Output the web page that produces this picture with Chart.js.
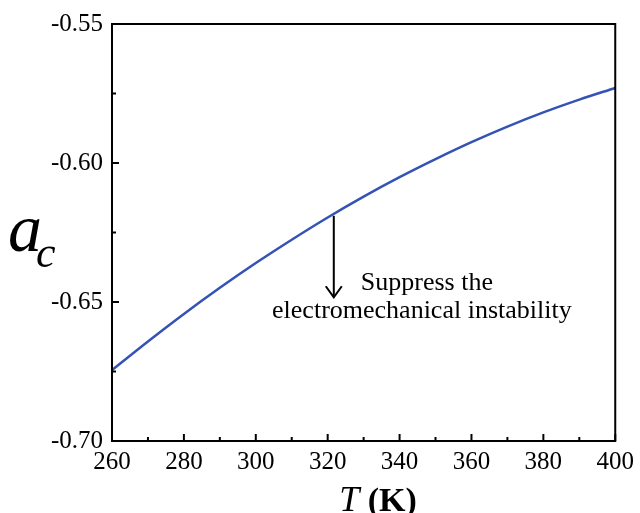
<!DOCTYPE html>
<html>
<head>
<meta charset="utf-8">
<script src="https://cdn.jsdelivr.net/npm/chart.js@4/dist/chart.umd.min.js"></script>
<style>
html,body{margin:0;padding:0;background:#fff;}
canvas{display:block;}
</style>
</head>
<body>
<canvas id="c" width="640" height="513"></canvas>
<script>
// ---- data ----
const temperatures = [260, 270, 280, 290, 300, 310, 320, 330, 340, 350, 360, 370, 380, 390, 400];
const acValues = [-0.6745, -0.6642, -0.6543, -0.6449, -0.6360, -0.6276, -0.6196, -0.6121, -0.6051, -0.5986, -0.5925, -0.5869, -0.5818, -0.5772, -0.5730];
const xTicks = [260, 280, 300, 320, 340, 360, 380, 400];
const yTicks = [-0.70, -0.65, -0.60, -0.55];
const arrowT = [321.7];
const arrowA = [-0.6190, -0.6483];
const annotationLines = ['Suppress the', 'electromechanical instability'];
const annotationAnchor = [346.2, -0.6458];

const SERIF = '"Liberation Serif", "DejaVu Serif", serif';

const decor = {
  id: 'decor',
  afterDraw(chart) {
    const {ctx, chartArea: ca, scales: {x, y}} = chart;
    ctx.save();
    // frame
    ctx.strokeStyle = '#000';
    ctx.lineWidth = 2;
    ctx.strokeRect(ca.left, ca.top, ca.right - ca.left, ca.bottom - ca.top);
    // inward ticks bottom axis
    for (let v = xTicks[0]; v <= xTicks[xTicks.length - 1] + 1e-9; v += 10) {
      const px = x.getPixelForValue(v);
      const major = xTicks.includes(v);
      const len = major ? 7 : 4;
      ctx.beginPath();
      ctx.moveTo(px, ca.bottom);
      ctx.lineTo(px, ca.bottom - len);
      ctx.stroke();
    }
    // inward ticks left axis
    for (let i = 0; i < yTicks.length; i++) {
      const vals = [yTicks[i]];
      if (i < yTicks.length - 1) vals.push((yTicks[i] + yTicks[i + 1]) / 2);
      vals.forEach((v, k) => {
        const py = y.getPixelForValue(v);
        const len = k === 0 ? 7 : 4;
        ctx.beginPath();
        ctx.moveTo(ca.left, py);
        ctx.lineTo(ca.left + len, py);
        ctx.stroke();
      });
    }
    // arrow
    const ax = x.getPixelForValue(arrowT[0]);
    const ay1 = y.getPixelForValue(arrowA[0]);
    const ay2 = y.getPixelForValue(arrowA[1]);
    ctx.lineWidth = 2;
    ctx.beginPath();
    ctx.moveTo(ax, ay1);
    ctx.lineTo(ax, ay2);
    ctx.stroke();
    ctx.beginPath();
    ctx.moveTo(ax - 8, ay2 - 11);
    ctx.lineTo(ax, ay2);
    ctx.lineTo(ax + 8, ay2 - 11);
    ctx.stroke();
    // annotation text
    ctx.fillStyle = '#000';
    ctx.font = '26px ' + SERIF;
    ctx.textAlign = 'center';
    ctx.textBaseline = 'alphabetic';
    const tx = x.getPixelForValue(annotationAnchor[0]);
    const ty = y.getPixelForValue(annotationAnchor[1]);
    ctx.fillText(annotationLines[0], tx + 5, ty);
    ctx.fillText(annotationLines[1], tx, ty + 28);
    // y title: a_c
    ctx.textAlign = 'left';
    ctx.font = 'italic 68px ' + SERIF;
    ctx.fillText('a', 8, 251);
    ctx.font = 'italic 44px ' + SERIF;
    ctx.fillText('c', 36, 267);
    // x title: T (K)
    ctx.font = 'italic 36px ' + SERIF;
    const tw = ctx.measureText('T').width;
    ctx.font = 'bold 34px ' + SERIF;
    const kw = ctx.measureText(' (K)').width;
    const start = 378 - (tw + kw) / 2;
    ctx.font = 'italic 36px ' + SERIF;
    ctx.fillText('T', start, 511);
    ctx.font = 'bold 34px ' + SERIF;
    ctx.fillText(' (K)', start + tw, 511);
    ctx.restore();
  }
};

new Chart(document.getElementById('c'), {
  type: 'line',
  data: {
    datasets: [{
      data: temperatures.map((t, i) => ({x: t, y: acValues[i]})),
      borderColor: '#3552b5',
      borderWidth: 2.5,
      pointRadius: 0,
      cubicInterpolationMode: 'monotone',
      fill: false
    }]
  },
  options: {
    responsive: false,
    devicePixelRatio: 1,
    animation: false,
    layout: {padding: {top: 23, right: 24, left: 0, bottom: 0}},
    plugins: {legend: {display: false}, tooltip: {enabled: false}},
    scales: {
      x: {
        type: 'linear',
        min: 260, max: 400,
        afterBuildTicks: s => { s.ticks = xTicks.map(v => ({value: v})); },
        afterFit: s => { s.height = 72; },
        grid: {display: false, drawTicks: false},
        border: {display: false},
        ticks: {
          padding: 6,
          color: '#000',
          font: {family: SERIF, size: 25},
          callback: v => String(v),
          maxRotation: 0
        }
      },
      y: {
        type: 'linear',
        min: -0.70, max: -0.55,
        afterBuildTicks: s => { s.ticks = yTicks.map(v => ({value: v})); },
        afterFit: s => { s.width = 112; },
        grid: {display: false, drawTicks: false},
        border: {display: false},
        ticks: {
          padding: 9,
          color: '#000',
          font: {family: SERIF, size: 25},
          callback: v => Number(v).toFixed(2)
        }
      }
    }
  },
  plugins: [decor]
});
</script>
</body>
</html>
